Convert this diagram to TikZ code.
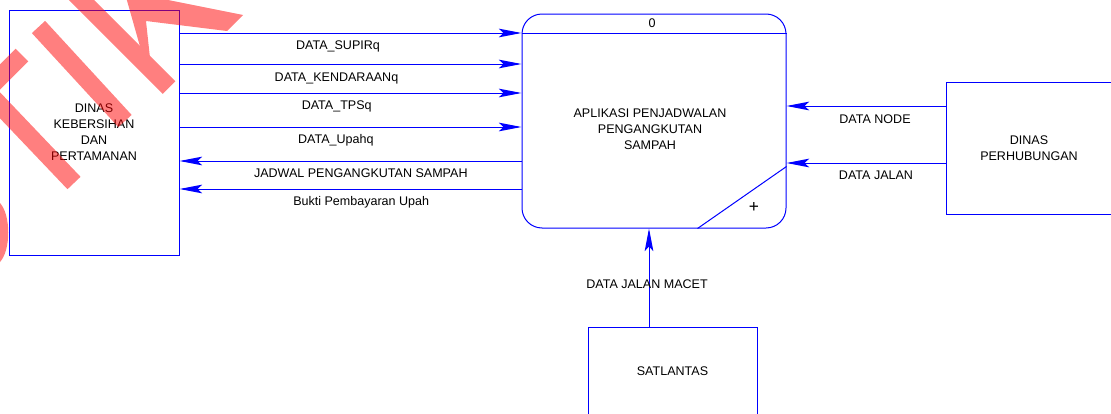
\documentclass[tikz,border=0pt]{standalone}
\usepackage{fontspec}
\setmainfont{Liberation Sans}
\usetikzlibrary{arrows.meta,calc}
\newcommand{\dfdfont}{\fontsize{9.4pt}{12pt}\selectfont}
\begin{document}
\begin{tikzpicture}[x=0.75pt,y=-0.75pt,
  ln/.style={draw=blue, line width=0.75pt},
  flow/.style={draw=blue, line width=0.75pt, -{Stealth[length=17pt,width=6.5pt,inset=3.5pt,blue]}},
  ent/.style={draw=blue, line width=0.75pt, rectangle, inner sep=0pt, align=center, font=\dfdfont},
  lbl/.style={anchor=base, inner sep=0pt, font=\dfdfont},
  band/.style={draw=red, line width=13.5pt, line cap=butt}]
\useasboundingbox (0,0) rectangle (1111,414);
\clip (0,0) rectangle (1111,414);
% entities
\node[ent, minimum width=127.5pt, minimum height=183.75pt] (kb) at (94,132.5) {DINAS\\KEBERSIHAN\\DAN\\PERTAMANAN};
\node[ent, minimum width=124.5pt, minimum height=99pt] (dp) at (1029,148) {DINAS\\PERHUBUNGAN};
\node[ent, minimum width=126.75pt, minimum height=66pt] (sat) at (672.5,371) {SATLANTAS};
% process
\node[draw=blue, line width=0.75pt, rounded corners=15pt, minimum width=198pt, minimum height=160.5pt, inner sep=0pt] (proc) at (654,121) {};
\node[font=\dfdfont, align=center, inner sep=0pt] (ptext) at (650,129.5) {APLIKASI PENJADWALAN\\PENGANGKUTAN\\SAMPAH};
\node[font=\dfdfont, inner sep=0pt] (pid) at (652,23.5) {0};
\node[font=\fontsize{13pt}{13pt}\selectfont, inner sep=0pt] (plus) at (754,207) {+};
\coordinate (hy) at (0,33);
\draw[ln] (proc.west |- hy) -- (proc.east |- hy);
\draw[ln] ($(proc.south east)+(-89,0)$) -- ($(proc.south east)+(0,-62)$);
% flow rows
\coordinate (y1) at (0,33);
\coordinate (y2) at (0,64);
\coordinate (y3) at (0,93);
\coordinate (y4) at (0,127);
\coordinate (y5) at (0,161);
\coordinate (y6) at (0,189);
\coordinate (r1) at (0,106);
\coordinate (r2) at (0,163);
\coordinate (vx) at (649,0);
\draw[flow] (kb.east |- y1) -- (proc.west |- y1);
\draw[flow] (kb.east |- y2) -- (proc.west |- y2);
\draw[flow] (kb.east |- y3) -- (proc.west |- y3);
\draw[flow] (kb.east |- y4) -- (proc.west |- y4);
\draw[flow] (proc.west |- y5) -- (kb.east |- y5);
\draw[flow] (proc.west |- y6) -- (kb.east |- y6);
\draw[flow] (dp.west |- r1) -- (proc.east |- r1);
\draw[flow] (dp.west |- r2) -- (proc.east |- r2);
\draw[flow] (sat.north -| vx) -- (proc.south -| vx);
% labels
\node[lbl] (l1) at (338,49.3) {DATA\_SUPIRq};
\node[lbl] (l2) at (336.5,81.3) {DATA\_KENDARAANq};
\node[lbl] (l3) at (336.7,109.3) {DATA\_TPSq};
\node[lbl] (l4) at (335.8,143.3) {DATA\_Upahq};
\node[lbl] (l5) at (360.8,177.3) {JADWAL PENGANGKUTAN SAMPAH};
\node[lbl] (l6) at (361.2,205.3) {Bukti Pembayaran Upah};
\node[lbl] (l7) at (875,123.3) {DATA NODE};
\node[lbl] (l8) at (876,179.3) {DATA JALAN};
\node[lbl] (l9) at (647,288.3) {DATA JALAN MACET};
% watermark
\begin{scope}[transparency group, opacity=0.5]
\draw[band] (38.5,27) -- (125,121);
\draw[band] (60,-21.5) -- (169,87.5);
\fill[red] (126,-3) -- (141,50) -- (150,58) -- (146,21) -- (227,31) -- (243,15) -- (153,-3) -- cycle;
\draw[band] (22,55) -- (-30,107);
\draw[band] (74,183) -- (-20,84.3);
\fill[red] (0,203) .. controls (11,215) and (11,250) .. (0,262) -- cycle;
\end{scope}
\end{tikzpicture}
\end{document}
